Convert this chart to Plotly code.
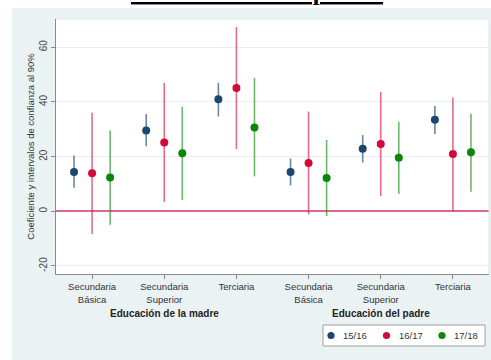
import plotly.graph_objects as go

# ---- data ----
categories = ["Secundaria<br>Básica", "Secundaria<br>Superior", "Terciaria",
              "Secundaria<br>Básica", "Secundaria<br>Superior", "Terciaria"]
groups = ["Educación de la madre", "Educación del padre"]
series = ["15/16", "16/17", "17/18"]

coef_1516 = [14.4, 29.6, 41.0, 14.4, 22.9, 33.5]
low_1516 = [8.6, 23.8, 34.7, 9.5, 17.9, 28.3]
up_1516 = [20.4, 35.6, 47.0, 19.3, 27.9, 38.5]

coef_1617 = [13.9, 25.2, 45.1, 17.7, 24.6, 21.0]
low_1617 = [-8.3, 3.4, 22.8, -1.1, 5.6, 0.1]
up_1617 = [36.1, 47.0, 67.4, 36.5, 43.6, 41.6]

coef_1718 = [12.4, 21.2, 30.7, 12.2, 19.6, 21.6]
low_1718 = [-4.9, 4.2, 12.8, -1.7, 6.4, 7.2]
up_1718 = [29.6, 38.2, 48.8, 26.1, 32.7, 35.7]

yticks = [-20, 0, 20, 40, 60]

# ---- layout constants ----
W, H = 491, 360
L, R, T, B = 56, 2, 19, 86
PW, PH = W - L - R, H - T - B

def px_x(p):
    return (p - L) / PW

def px_y(p):
    return (H - B - p) / PH

marker_cols = ["#1a476f", "#d20a3c", "#0a870a"]
ci_cols = ["rgba(26,71,111,0.65)", "rgba(210,10,60,0.6)", "rgba(10,135,10,0.6)"]
offsets = [-0.25, 0.0, 0.25]
data_sets = [(coef_1516, low_1516, up_1516), (coef_1617, low_1617, up_1617), (coef_1718, low_1718, up_1718)]

fig = go.Figure()
pos = list(range(1, len(categories) + 1))
for i, (name, (c, lo, up)) in enumerate(zip(series, data_sets)):
    xs = [p + offsets[i] for p in pos]
    fig.add_trace(go.Scatter(
        x=xs, y=c, mode="markers", name=name, showlegend=False,
        marker=dict(color=marker_cols[i], size=8),
        error_y=dict(type="data", symmetric=False,
                     array=[u - v for u, v in zip(up, c)],
                     arrayminus=[v - l for v, l in zip(c, lo)],
                     color=ci_cols[i], thickness=1.6, width=0),
    ))

fig.update_layout(
    width=W, height=H,
    margin=dict(l=L, r=R, t=T, b=B, pad=0, autoexpand=False),
    paper_bgcolor="#eaf2f3",
    plot_bgcolor="#ffffff",
    font=dict(family="Liberation Sans, Arial, sans-serif", color="#333333", size=10),
    showlegend=False,
    xaxis=dict(range=[0.5, 6.5], tickmode="array", tickvals=pos, ticktext=categories,
               showgrid=False, zeroline=False, showline=True, linecolor="#8a8a8a", linewidth=1,
               ticks="outside", ticklen=4, tickcolor="#8a8a8a", automargin=False,
               tickfont=dict(size=9.5, color="#333333"), fixedrange=True),
    yaxis=dict(range=[-22.93, 70.35], tickmode="array", tickvals=yticks,
               ticktext=[str(v) for v in yticks], tickangle=-90,
               showgrid=True, gridcolor="#e6eff1", gridwidth=1,
               zeroline=True, zerolinecolor="rgba(210,20,70,0.65)", zerolinewidth=1.6,
               showline=True, linecolor="#8a8a8a", linewidth=1,
               ticks="outside", ticklen=4, tickcolor="#8a8a8a", automargin=False,
               tickfont=dict(size=10, color="#444444"),
               title=dict(text="Coeficiente y intervalos de confianza al 90%",
                          font=dict(size=9.5, color="#333333"), standoff=1),
               fixedrange=True),
)

# white page strip above and to the left of the chart background
fig.add_shape(type="rect", xref="paper", yref="paper", x0=px_x(0), x1=px_x(W), y0=px_y(8), y1=px_y(-5),
              fillcolor="#ffffff", line=dict(width=0), layer="above")
fig.add_shape(type="rect", xref="paper", yref="paper", x0=px_x(-5), x1=px_x(12), y0=px_y(H + 5), y1=px_y(-5),
              fillcolor="#ffffff", line=dict(width=0), layer="above")
# faint top/right frame of the plot region
fig.add_shape(type="line", xref="paper", yref="paper", x0=0, x1=1, y0=1, y1=1,
              line=dict(color="#dde7e9", width=1))
fig.add_shape(type="line", xref="paper", yref="paper", x0=1, x1=1, y0=0, y1=1,
              line=dict(color="#dde7e9", width=1))

# group titles
fig.add_annotation(x=2, xref="x", y=px_y(313), yref="paper", text="<b>" + groups[0] + "</b>",
                   showarrow=False, font=dict(size=10, color="#222222"), yanchor="middle")
fig.add_annotation(x=5, xref="x", y=px_y(313), yref="paper", text="<b>" + groups[1] + "</b>",
                   showarrow=False, font=dict(size=10, color="#222222"), yanchor="middle")

# legend box (Stata style, compact)
LEG_X0, LEG_X1, LEG_Y0, LEG_Y1 = 323, 485, 325, 346
LEG_STEP = 55.5
fig.add_shape(type="rect", xref="paper", yref="paper",
              x0=px_x(LEG_X0), x1=px_x(LEG_X1), y0=px_y(LEG_Y1), y1=px_y(LEG_Y0),
              fillcolor="#ffffff", line=dict(color="#a0a0a0", width=1), layer="above")
ymid = (LEG_Y0 + LEG_Y1) / 2
for i, name in enumerate(series):
    cx = LEG_X0 + 8 + i * LEG_STEP
    fig.add_shape(type="circle", xref="paper", yref="paper",
                  x0=px_x(cx - 3.6), x1=px_x(cx + 3.6), y0=px_y(ymid + 3.6), y1=px_y(ymid - 3.6),
                  fillcolor=marker_cols[i], line=dict(width=0), layer="above")
    fig.add_annotation(x=px_x(cx + 10), xref="paper", y=px_y(ymid), yref="paper",
                       text=name, showarrow=False, xanchor="left", yanchor="middle",
                       font=dict(size=9.5, color="#333333"))

# cut-off page heading
fig.add_annotation(x=px_x(257), xref="paper", y=px_y(-8), yref="paper",
                   text="<u><b>Educación de los padres</b></u>", showarrow=False,
                   font=dict(family="Liberation Serif, Times New Roman, serif", size=24.5, color="#000000"),
                   xanchor="center", yanchor="middle")

fig.write_html("out.html", config={"displayModeBar": False},
               post_script="document.body.style.margin='0';")
